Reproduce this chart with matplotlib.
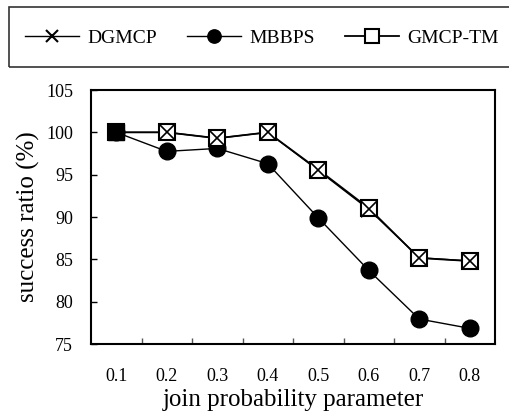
import matplotlib.pyplot as plt
from matplotlib.patches import Rectangle
import numpy as np

plt.rcParams['font.family'] = ['Liberation Serif', 'DejaVu Serif']

categories = ["0.1", "0.2", "0.3", "0.4", "0.5", "0.6", "0.7", "0.8"]
dgmcp = [100, 100, 99.3, 100, 95.5, 90.9, 85.2, 84.8]
mbbps = [100, 97.75, 98.1, 96.3, 89.9, 83.7, 77.95, 76.85]
gmcp_tm = [100, 100, 99.3, 100, 95.6, 91.05, 85.15, 84.8]

x = np.arange(len(categories))

fig = plt.figure(figsize=(5.09, 4.19), dpi=100)
ax = fig.add_axes([91/509, 1-344/419, (495-91)/509, (344-90)/419])

l1, = ax.plot(x, dgmcp, color='black', lw=1, marker='x', ms=11, mew=1.5, label='DGMCP')
l2, = ax.plot(x, mbbps, color='black', lw=1, marker='o', ms=12, label='MBBPS')
l3, = ax.plot(x, gmcp_tm, color='black', lw=1.3, marker='s', ms=12, mfc='white', mec='black', mew=1.5, label='GMCP-TM')
ax.plot(x, dgmcp, color='black', lw=0, marker='x', ms=11, mew=1.2, zorder=3)
# first point renders as a solid block in the original
ax.plot(x[:1], gmcp_tm[:1], lw=0, marker='s', ms=12, mfc='black', mec='black', zorder=4)

ax.set_xlim(-0.5, len(categories) - 0.5)
ax.set_ylim(75, 105)
ax.set_yticks(np.arange(75, 106, 5))
ax.set_xticks(x)
ax.set_xticklabels(categories)
ax.set_xticks(np.arange(0.5, len(categories) - 1, 1), minor=True)
ax.tick_params(axis='x', which='major', length=0, labelsize=13, pad=17)
ax.tick_params(axis='x', which='minor', direction='in', length=4, width=1, color='#555555')
ax.tick_params(axis='y', direction='in', length=4, width=1, labelsize=13, pad=13)
for s in ax.spines.values():
    s.set_linewidth(1.5)

ax.set_xlabel('join probability parameter', fontsize=18, labelpad=3)
ax.set_ylabel('success ratio (%)', fontsize=18, labelpad=4)

# legend box runs off the right edge in the original
fig.patches.append(Rectangle((9/509, 1-67/419), 1.0, 60/419, transform=fig.transFigure,
                             fill=False, edgecolor='#333333', lw=1.2))
fig.legend(handles=[l1, l2, l3], loc='center left', ncol=3,
           bbox_to_anchor=(25/509, 1-38/419), frameon=False,
           fontsize=14, handlelength=2.8, handletextpad=0.4, columnspacing=1.55,
           borderaxespad=0, borderpad=0, markerscale=0.8)

fig.savefig('out.png', dpi=100)
